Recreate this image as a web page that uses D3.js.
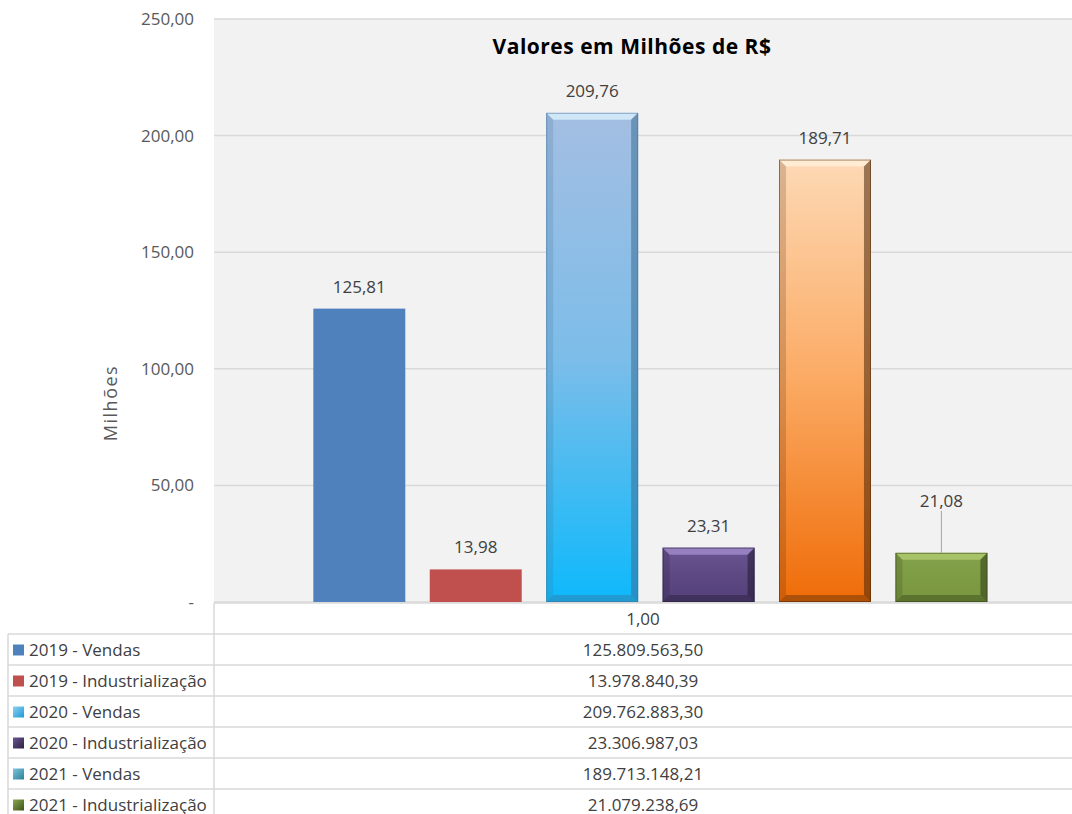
<!DOCTYPE html>
<html>
<head>
<meta charset="utf-8">
<style>
  body { margin: 0; background: #fff; }
  text { font-family: "Open Sans", "Noto Sans", sans-serif; }
</style>
</head>
<body>
<div id="chart"></div>
<script src="https://cdn.jsdelivr.net/npm/d3@7"></script>
<script>
// data
var categories = ["1,00"];
var seriesNames = ["2019 - Vendas", "2019 - Industrialização", "2020 - Vendas",
                   "2020 - Industrialização", "2021 - Vendas", "2021 - Industrialização"];
var seriesValues = [125809563.50, 13978840.39, 209762883.30, 23306987.03, 189713148.21, 21079238.69];
var yTicks = [0, 50, 100, 150, 200, 250];

var width = 1072, height = 814;
var plotLeft = 214, plotRight = 1072, plotTop = 19, plotBottom = 602;
var rowH = 31, tableLeft = 8;

var locale = d3.formatLocale({ decimal: ",", thousands: ".", grouping: [3], currency: ["R$", ""] });
var fmt2 = locale.format(",.2f");

var svg = d3.select("#chart").append("svg")
    .attr("width", width).attr("height", height);

var defs = svg.append("defs");
// bar styles: flat for 2019, bevelled gradients for 2020/2021
var styles = [
    { stops: ["#4f81bd", "#4f81bd"], bevel: false },
    { stops: ["#c0504d", "#c0504d"], bevel: false },
    { stops: ["#a4bee2", "#7cbde9", "#0db9fb"], bevel: true, light: "#dff4ff", dark: "#3d6f96" },
    { stops: ["#6b5694", "#5d4882", "#54407a"], bevel: true, light: "#a58fcf", dark: "#231a33" },
    { stops: ["#fdd9b5", "#fbaa63", "#ef6c08"], bevel: true, light: "#fff3dc", dark: "#4a2508" },
    { stops: ["#84a24b", "#7e9c44", "#7a973f"], bevel: true, light: "#b3cf72", dark: "#2e3c15" }
];
// legend icons in the table (Excel draws the 2021 sales icon in teal)
var iconStops = [
    ["#4f81bd", "#4f81bd"], ["#c0504d", "#c0504d"], ["#8fd0f0", "#1a9ad6"],
    ["#6b5694", "#2d2142"], ["#7cc6dc", "#2b7f98"], ["#8aa94e", "#3d5219"]
];
styles.forEach(function (s, i) {
    var g = defs.append("linearGradient").attr("id", "g" + i)
        .attr("x1", 0).attr("y1", 0).attr("x2", 0).attr("y2", 1);
    s.stops.forEach(function (c, j) {
        g.append("stop").attr("offset", j / (s.stops.length - 1)).attr("stop-color", c);
    });
    var ig = defs.append("linearGradient").attr("id", "ic" + i)
        .attr("x1", 0).attr("y1", 0).attr("x2", 1).attr("y2", 1);
    iconStops[i].forEach(function (c, j) {
        ig.append("stop").attr("offset", j).attr("stop-color", c);
    });
});

var y = d3.scaleLinear().domain([0, 250]).range([plotBottom, plotTop]);
var x0 = d3.scaleBand().domain(categories).range([plotLeft, plotRight]);
var x1 = d3.scaleBand().domain(seriesNames).range([0, x0.bandwidth()])
    .paddingInner(0.21).paddingOuter(0.79).align(0.54);

// plot background
svg.append("rect").attr("x", plotLeft).attr("y", plotTop)
    .attr("width", plotRight - plotLeft).attr("height", plotBottom - plotTop)
    .attr("fill", "#f2f2f2");

// gridlines
svg.append("g").selectAll("line").data(yTicks).enter().append("line")
    .attr("x1", plotLeft).attr("x2", plotRight)
    .attr("y1", function (d) { return y(d); }).attr("y2", function (d) { return y(d); })
    .attr("stroke", "#d9d9d9").attr("stroke-width", 1.5);

// y axis labels
var yAxis = d3.axisLeft(y).tickValues(yTicks).tickSize(0).tickPadding(0)
    .tickFormat(function (d) { return d === 0 ? "-" : fmt2(d); });
var ya = svg.append("g").attr("transform", "translate(194,0)").call(yAxis);
ya.select(".domain").remove();
ya.selectAll("text").attr("fill", "#595959").style("font-size", "17px")
    .style("font-family", "'Open Sans', sans-serif");

svg.append("text")
    .attr("transform", "translate(117,403) rotate(-90)")
    .attr("text-anchor", "middle").attr("fill", "#595959").style("font-size", "18px")
    .style("letter-spacing", "1.5px")
    .text("Milhões");

svg.append("text").attr("x", 632).attr("y", 54)
    .attr("text-anchor", "middle").attr("fill", "#000").style("font-size", "21px")
    .style("font-weight", "bold").style("letter-spacing", "0.5px").text("Valores em Milhões de R$");

// bars
var bars = svg.append("g").attr("transform", "translate(" + x0(categories[0]) + ",0)");
var bw = x1.bandwidth();
seriesNames.forEach(function (name, i) {
    var v = seriesValues[i] / 1e6;
    var bx = x1(name), by = y(v), bh = y(0) - y(v);
    var s = styles[i];
    var g = bars.append("g");
    g.append("rect").attr("x", bx).attr("y", by).attr("width", bw).attr("height", bh)
        .attr("fill", "url(#g" + i + ")");
    if (s.bevel) {
        var b = 7;
        // top highlight
        g.append("path").attr("d", "M" + bx + "," + by + "H" + (bx + bw) + "L" + (bx + bw - b) + "," + (by + b) +
            "H" + (bx + b) + "Z").attr("fill", s.light).attr("opacity", 0.75);
        // left edge
        g.append("path").attr("d", "M" + bx + "," + by + "L" + (bx + b) + "," + (by + b) + "V" + (by + bh - b) +
            "L" + bx + "," + (by + bh) + "Z").attr("fill", s.dark).attr("opacity", 0.2);
        // right edge
        g.append("path").attr("d", "M" + (bx + bw) + "," + by + "L" + (bx + bw - b) + "," + (by + b) + "V" + (by + bh - b) +
            "L" + (bx + bw) + "," + (by + bh) + "Z").attr("fill", s.dark).attr("opacity", 0.55);
        // bottom edge
        g.append("path").attr("d", "M" + bx + "," + (by + bh) + "L" + (bx + b) + "," + (by + bh - b) + "H" + (bx + bw - b) +
            "L" + (bx + bw) + "," + (by + bh) + "Z").attr("fill", s.dark).attr("opacity", 0.4);
        g.append("rect").attr("x", bx + 0.5).attr("y", by + 0.5).attr("width", bw - 1).attr("height", bh - 1)
            .attr("fill", "none").attr("stroke", s.dark).attr("stroke-opacity", 0.5);
    }
    // data label (last one is pushed up with a leader line)
    var lift = i === 5 ? 52 : 22;
    if (i === 5) {
        g.append("line").attr("x1", bx + bw / 2).attr("x2", bx + bw / 2)
            .attr("y1", by - lift + 10).attr("y2", by).attr("stroke", "#a6a6a6");
    }
    g.append("text").attr("x", bx + bw / 2).attr("y", by - lift + 6)
        .attr("text-anchor", "middle").attr("fill", "#404040").style("font-size", "17px")
        .text(fmt2(v));
});

// data table
var table = svg.append("g");
var lineColor = "#d9d9d9";
table.append("line").attr("x1", plotLeft).attr("x2", plotRight).attr("y1", plotBottom + 1).attr("y2", plotBottom + 1)
    .attr("stroke", lineColor).attr("stroke-width", 1.5);
table.append("line").attr("x1", plotLeft).attr("x2", plotLeft).attr("y1", plotBottom + 1).attr("y2", height)
    .attr("stroke", lineColor).attr("stroke-width", 1.5);
table.append("line").attr("x1", tableLeft).attr("x2", tableLeft).attr("y1", plotBottom + 1 + rowH).attr("y2", height)
    .attr("stroke", lineColor).attr("stroke-width", 1.5);
table.append("text").attr("x", (plotLeft + plotRight) / 2).attr("y", plotBottom + 1 + rowH / 2 + 6)
    .attr("text-anchor", "middle").attr("fill", "#404040").style("font-size", "17px").text(categories[0]);

seriesNames.forEach(function (name, i) {
    var top = plotBottom + 1 + rowH * (i + 1);
    table.append("line").attr("x1", tableLeft).attr("x2", plotRight).attr("y1", top).attr("y2", top)
        .attr("stroke", lineColor).attr("stroke-width", 1.5);
    table.append("rect").attr("x", 13).attr("y", top + rowH / 2 - 5).attr("width", 11).attr("height", 11)
        .attr("fill", "url(#ic" + i + ")");
    table.append("text").attr("x", 29).attr("y", top + rowH / 2 + 6)
        .attr("fill", "#404040").style("font-size", "17px").text(name);
    table.append("text").attr("x", (plotLeft + plotRight) / 2).attr("y", top + rowH / 2 + 6)
        .attr("text-anchor", "middle").attr("fill", "#404040").style("font-size", "17px")
        .text(fmt2(seriesValues[i]));
});
</script>
</body>
</html>
